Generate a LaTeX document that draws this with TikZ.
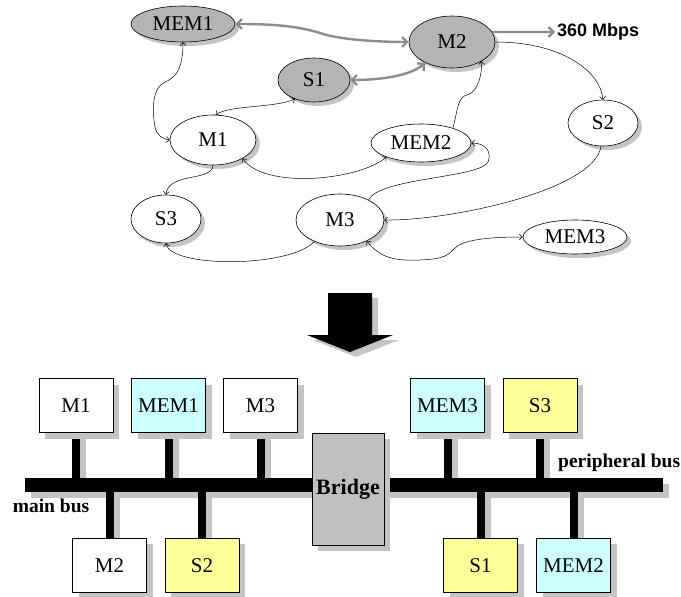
\documentclass[tikz,border=0pt]{standalone}
\usepackage{fontspec}
\setmainfont{Liberation Serif}
\newfontfamily\arialfont{Liberation Sans}
\usetikzlibrary{shapes.geometric,arrows.meta,shadows}
\definecolor{nodegray}{HTML}{B4B4B4}
\definecolor{shadowgray}{HTML}{C4C4C4}
\definecolor{linkgray}{HTML}{8C8C8C}
\definecolor{memcyan}{HTML}{CCFFFF}
\definecolor{slvyellow}{HTML}{FFFF99}
\definecolor{bridgegray}{HTML}{C0C0C0}
\tikzset{
  ell/.style={ellipse, draw=black, line width=0.6pt, fill=white, inner sep=0pt,
    font=\fontsize{21}{23}\selectfont,
    drop shadow={shadow xshift=4pt, shadow yshift=-4pt, fill=shadowgray, opacity=1}},
  hot/.style={ell, fill=nodegray},
  thinto/.style={line width=0.5pt, -{Straight Barb[length=3pt,width=6pt]}},
  thinboth/.style={line width=0.5pt, {Straight Barb[length=3pt,width=6pt]}-{Straight Barb[length=3pt,width=6pt]}},
  thickto/.style={line width=2.4pt, linkgray, -{Straight Barb[length=5pt,width=10pt]}},
  thickboth/.style={line width=2.4pt, linkgray, {Straight Barb[length=5pt,width=10pt]}-{Straight Barb[length=5pt,width=10pt]}},
  box/.style={rectangle, draw=black, line width=0.8pt, minimum width=74pt, minimum height=54pt,
    inner sep=0pt, fill=white, font=\fontsize{21}{23}\selectfont,
    drop shadow={shadow xshift=6pt, shadow yshift=-6pt, fill=shadowgray, opacity=1}},
  stem/.style={line width=8pt, black},
  stemshadow/.style={line width=8pt, shadowgray},
  buslabel/.style={font=\bfseries\fontsize{19.5}{21}\selectfont, inner sep=0pt}
}
\begin{document}
\begin{tikzpicture}[x=1pt,y=-1pt]
\useasboundingbox (0,0) rectangle (681,597);

% ---- top graph ----
\node[hot, minimum width=104pt, minimum height=36pt] (MEM1) at (183,24) {MEM1};
\node[hot, minimum width=86pt, minimum height=52pt] (M2) at (452,42) {M2};
\node[hot, minimum width=72pt, minimum height=44pt] (S1) at (314,80) {S1};
\node[ell, minimum width=70pt, minimum height=46pt] (S2) at (603,123) {S2};
\node[ell, minimum width=100pt, minimum height=38pt] (MEM2) at (421,143) {MEM2};
\node[ell, minimum width=86pt, minimum height=50pt] (M1) at (213,140) {M1};
\node[ell, minimum width=70pt, minimum height=48pt] (S3) at (166,219) {S3};
\node[ell, minimum width=88pt, minimum height=52pt] (M3) at (340,220) {M3};
\node[ell, minimum width=104pt, minimum height=34pt] (MEM3) at (575,237) {MEM3};
\node[font=\arialfont\bfseries\fontsize{18}{20}\selectfont, anchor=west, inner sep=2pt] (rate) at (555,32) {360 Mbps};

\draw[thickboth] (MEM1.east) .. controls (280,24) and (300,27) .. (320,33) .. controls (340,40) and (380,42) .. (M2.west);
\draw[thickboth] (S1.east) .. controls (380,80) and (410,76) .. (M2.-142);
\draw[thickto] (M2.14) -- (rate.west);
\draw[thinto] (M2.east) .. controls (560,42) and (600,70) .. (S2.north);
\draw[thinboth] (MEM1.south) .. controls (183,70) and (175,78) .. (165,82) .. controls (152,88) and (152,110) .. (155,127) .. controls (157,136) and (163,139) .. (M1.west);
\draw[thinboth] (S1.-135) .. controls (275,108) and (230,105) .. (M1.84);
\draw[thinto] (MEM2.25) .. controls (458,108) and (458,97) .. (467,95) .. controls (478,92) and (482,75) .. (M2.-33);
\draw[thinboth] (M1.-32) .. controls (265,190) and (360,180) .. (MEM2.-158);
\draw[thinto] (M1.south) .. controls (212,182) and (168,172) .. (S3.north);
\draw[thinto] (M3.-140) .. controls (290,268) and (170,268) .. (S3.south);
\draw[thinto] (S2.-95) .. controls (595,190) and (450,221) .. (M3.east);
\draw[thinto] (M3.35) .. controls (378,178) and (480,178) .. (488,162) .. controls (492,152) and (486,143) .. (MEM2.east);
\draw[thinboth] (M3.-38) .. controls (380,258) and (395,261) .. (420,260) .. controls (445,259) and (448,255) .. (455,248) .. controls (465,238) and (500,237) .. (MEM3.west);

% ---- big arrow ----
\fill[shadowgray] (334,298) -- (378,298) -- (378,340) -- (399,340) -- (356,357) -- (313,340) -- (334,340) -- cycle;
\fill[black] (328,293) -- (372,293) -- (372,335) -- (393,335) -- (350,352) -- (307,335) -- (328,335) -- cycle;

% ---- bus architecture ----
\node[rectangle, fill=black, inner sep=0pt, minimum width=638pt, minimum height=14pt,
  drop shadow={shadow xshift=6pt, shadow yshift=-6pt, fill=shadowgray, opacity=1}] (bus) at (344,485) {};

\coordinate (pM1) at (76,433);
\coordinate (pMEM1) at (168.5,433);
\coordinate (pM3) at (260.5,433);
\coordinate (pMEM3) at (447.5,433);
\coordinate (pS3) at (540,433);
\coordinate (pM2) at (109.5,538);
\coordinate (pS2) at (202,538);
\coordinate (pS1) at (480.5,538);
\coordinate (pMEM2) at (573.5,538);

\foreach \n in {M1,MEM1,M3,MEM3,S3}{
  \draw[stemshadow] ([xshift=6pt]p\n) -- ([xshift=6pt]p\n |- bus.north);
  \draw[stem] (p\n) -- (p\n |- bus.north);
}
\foreach \n in {M2,S2,S1,MEM2}{
  \draw[stemshadow] ([xshift=6pt]p\n) -- ([xshift=6pt]p\n |- bus.south);
  \draw[stem] (p\n) -- (p\n |- bus.south);
}

\node[box, anchor=south] (bM1) at (pM1) {M1};
\node[box, anchor=south, fill=memcyan] (bMEM1) at (pMEM1) {MEM1};
\node[box, anchor=south] (bM3) at (pM3) {M3};
\node[box, anchor=south, fill=memcyan] (bMEM3) at (pMEM3) {MEM3};
\node[box, anchor=south, fill=slvyellow] (bS3) at (pS3) {S3};
\node[box, anchor=north] (bM2) at (pM2) {M2};
\node[box, anchor=north, fill=slvyellow] (bS2) at (pS2) {S2};
\node[box, anchor=north, fill=slvyellow] (bS1) at (pS1) {S1};
\node[box, anchor=north, fill=memcyan] (bMEM2) at (pMEM2) {MEM2};

\node[box, fill=bridgegray, minimum width=72pt, minimum height=112pt,
  font=\bfseries\fontsize{22}{24}\selectfont] (bridge) at (348,489) {Bridge};

\node[buslabel] (mainlbl) at (51,506) {main bus};
\node[buslabel, anchor=west] (perlbl) at (558,463) {peripheral bus};
\end{tikzpicture}
\end{document}
